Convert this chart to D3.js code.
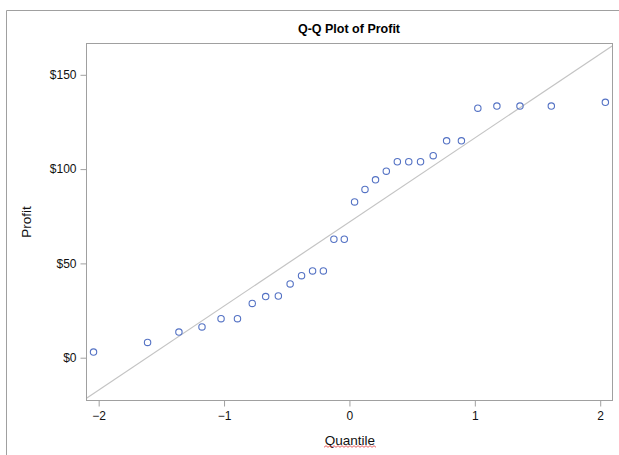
<!DOCTYPE html>
<html>
<head>
<meta charset="utf-8">
<script src="https://cdn.jsdelivr.net/npm/d3@7"></script>
<style>
  html, body { margin: 0; padding: 0; background: #fff; }
  svg { display: block; font-family: "Liberation Sans", Arial, sans-serif; }
</style>
</head>
<body>
<svg id="chart" width="619" height="455"></svg>
<script>
// Normal quantiles (x) and sorted profit observations (y)
const quantiles = [
  -2.041, -1.610, -1.360, -1.176, -1.024, -0.893, -0.775, -0.668, -0.567, -0.473,
  -0.382, -0.294, -0.208, -0.124, -0.041, 0.041, 0.124, 0.208, 0.294, 0.382,
  0.473, 0.567, 0.668, 0.775, 0.893, 1.024, 1.176, 1.360, 1.610, 2.041
];
const profit = [
  3.0, 8.1, 13.6, 16.3, 20.7, 20.7, 28.8, 32.4, 32.7, 39.1,
  43.5, 46.0, 46.0, 62.8, 62.8, 82.6, 89.2, 94.3, 98.9, 103.9,
  103.9, 103.9, 107.1, 115.0, 115.0, 132.3, 133.4, 133.4, 133.4, 135.4
];
const xTicks = [-2, -1, 0, 1, 2];
const yTicks = [0, 50, 100, 150];

const svg = d3.select("#chart");
const W = 619, H = 455;
const plot = { left: 86.5, top: 43.5, right: 612.5, bottom: 400.5 };

const x = d3.scaleLinear().domain([-2.097, 2.098]).range([plot.left, plot.right]);
const y = d3.scaleLinear().domain([-22.7, 166.6]).range([plot.bottom, plot.top]);

// Outer graph border
svg.append("path")
  .attr("d", `M6.5,${H}V10.5H${W}`)
  .attr("fill", "none").attr("stroke", "#a0a0a0").attr("stroke-width", 1);

// Title
svg.append("text")
  .attr("x", 349).attr("y", 33)
  .attr("text-anchor", "middle")
  .attr("font-size", "12.5px").attr("font-weight", "bold").attr("fill", "#000")
  .text("Q-Q Plot of Profit");

// Clip region for the reference line
svg.append("clipPath").attr("id", "plotClip")
  .append("rect")
  .attr("x", plot.left).attr("y", plot.top)
  .attr("width", plot.right - plot.left).attr("height", plot.bottom - plot.top);

// Reference line: mean + sd * quantile
const mu = d3.mean(profit);
const sigma = d3.deviation(profit);
const xd = x.domain();
svg.append("line")
  .attr("clip-path", "url(#plotClip)")
  .attr("x1", x(xd[0])).attr("y1", y(mu + sigma * xd[0]))
  .attr("x2", x(xd[1])).attr("y2", y(mu + sigma * xd[1]))
  .attr("stroke", "#c4c4c4").attr("stroke-width", 1.2);

// Points
svg.append("g")
  .selectAll("circle")
  .data(quantiles.map((q, i) => [q, profit[i]]))
  .join("circle")
  .attr("cx", d => x(d[0]))
  .attr("cy", d => y(d[1]))
  .attr("r", 3.2)
  .attr("fill", "none")
  .attr("stroke", "#5472c4")
  .attr("stroke-width", 1.1);

// Plot frame
svg.append("rect")
  .attr("x", plot.left).attr("y", plot.top)
  .attr("width", plot.right - plot.left).attr("height", plot.bottom - plot.top)
  .attr("fill", "none").attr("stroke", "#a0a0a0").attr("stroke-width", 1);

// X axis
const xAxis = svg.append("g")
  .attr("transform", `translate(0,${plot.bottom})`)
  .call(d3.axisBottom(x).tickValues(xTicks).tickSize(6).tickPadding(5).tickFormat(d3.format("d")));
xAxis.select(".domain").remove();
xAxis.selectAll("line").attr("stroke", "#a0a0a0");
xAxis.selectAll("text").attr("font-size", "12px").attr("fill", "#111")
  .attr("font-family", "'Liberation Sans', Arial, sans-serif");

// Y axis
const yAxis = svg.append("g")
  .attr("transform", `translate(${plot.left},0)`)
  .call(d3.axisLeft(y).tickValues(yTicks).tickSize(6).tickPadding(4).tickFormat(d => "$" + d));
yAxis.select(".domain").remove();
yAxis.selectAll("line").attr("stroke", "#a0a0a0");
yAxis.selectAll("text").attr("font-size", "12px").attr("fill", "#111")
  .attr("font-family", "'Liberation Sans', Arial, sans-serif");

// Axis titles
svg.append("text")
  .attr("x", 350).attr("y", 445)
  .attr("text-anchor", "middle")
  .attr("font-size", "13.5px").attr("fill", "#111")
  .text("Quantile");

svg.append("text")
  .attr("transform", "translate(31,222) rotate(-90)")
  .attr("text-anchor", "middle")
  .attr("font-size", "13.5px").attr("fill", "#111")
  .text("Profit");

// Red wavy underline beneath the x-axis title
const waveX = d3.range(324, 377, 2);
svg.append("path")
  .attr("d", d3.line()(waveX.map((wx, i) => [wx, 446.5 + (i % 2 ? -0.8 : 0.8)])))
  .attr("fill", "none").attr("stroke", "#e03a3a").attr("stroke-width", 0.8);
</script>
</body>
</html>
